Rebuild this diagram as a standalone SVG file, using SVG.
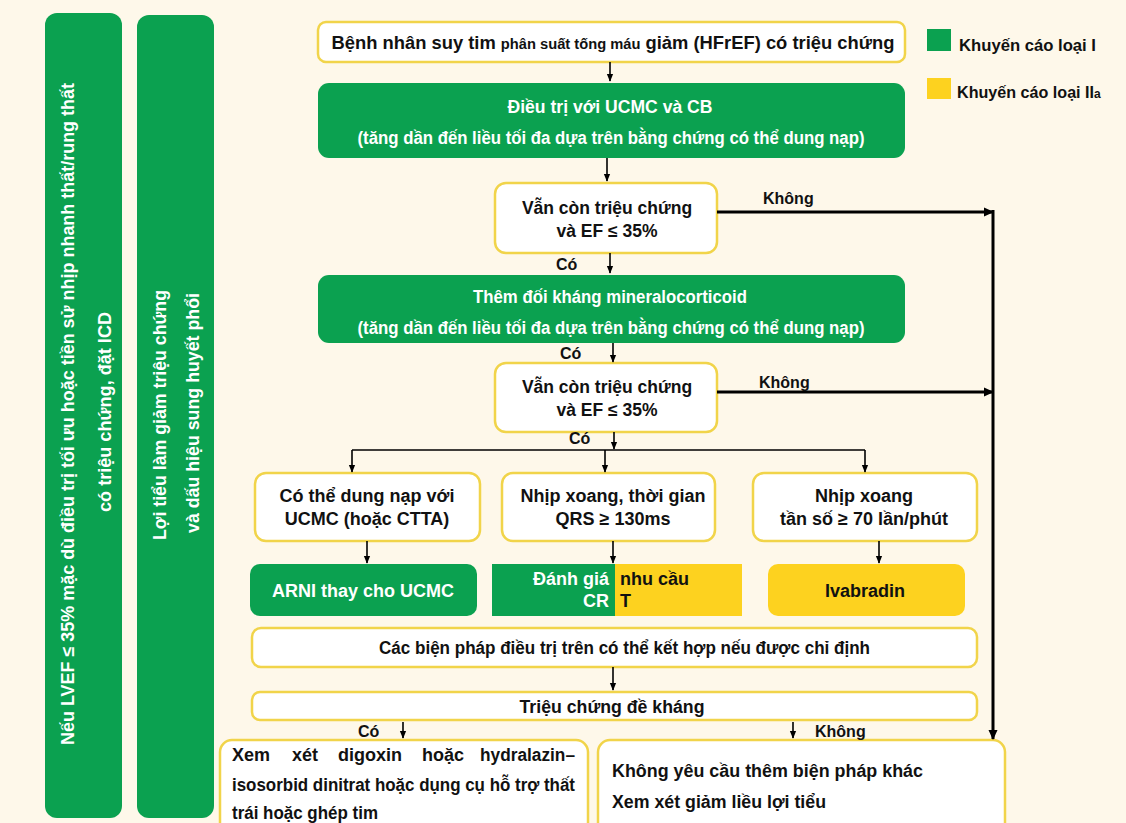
<svg xmlns="http://www.w3.org/2000/svg" width="1126" height="823" viewBox="0 0 1126 823">
<defs>
<marker id="ah" markerUnits="userSpaceOnUse" markerWidth="10" markerHeight="10" viewBox="0 0 10 10" refX="9" refY="5" orient="auto">
<path d="M0,0.5 L10,5 L0,9.5 Z" fill="#000"/>
</marker>
<marker id="ahs" markerUnits="userSpaceOnUse" markerWidth="8" markerHeight="8" viewBox="0 0 10 10" refX="9" refY="5" orient="auto">
<path d="M0,1 L10,5 L0,9 Z" fill="#000"/>
</marker>
</defs>
<style>
text{font-family:"Liberation Sans",Arial,sans-serif;font-weight:bold;fill:#111;}
.g{fill:#0ba150;}
.y{fill:#fdd21f;}
.w{fill:#fff;stroke:#f1d44a;stroke-width:2.5;}
.wt{fill:#fff;}
.c{text-anchor:middle;}
.f18{font-size:18px;}
.f17{font-size:17.5px;}
.f16{font-size:16px;}
.ln{stroke:#000;stroke-width:1.6;fill:none;}
.lt{stroke:#000;stroke-width:3;fill:none;}
</style>
<rect width="1126" height="823" fill="#fef8ea"/>

<g id="side-icd">
<rect x="45" y="13" width="77" height="805" rx="12" class="g"/>
<text class="wt c f18" transform="translate(74,414) rotate(-90)" textLength="662" lengthAdjust="spacingAndGlyphs">Nếu LVEF ≤ 35% mặc dù điều trị tối ưu hoặc tiền sử nhịp nhanh thất/rung thất</text>
<text class="wt c f18" transform="translate(111,412) rotate(-90)" textLength="200" lengthAdjust="spacingAndGlyphs">có triệu chứng, đặt ICD</text>
</g>
<g id="side-diuretic">
<rect x="137" y="15" width="77" height="803" rx="12" class="g"/>
<text class="wt c f18" transform="translate(166,415) rotate(-90)" textLength="250" lengthAdjust="spacingAndGlyphs">Lợi tiểu làm giảm triệu chứng</text>
<text class="wt c f18" transform="translate(199,413) rotate(-90)" textLength="240" lengthAdjust="spacingAndGlyphs">và dấu hiệu sung huyết phổi</text>
</g>

<g id="legend">
<rect x="927" y="29" width="24" height="22" class="g"/>
<text x="959" y="51" class="f16" textLength="137" lengthAdjust="spacingAndGlyphs">Khuyến cáo loại I</text>
<rect x="927" y="78" width="24" height="21" class="y"/>
<text x="957" y="98" class="f16"><tspan textLength="137" lengthAdjust="spacingAndGlyphs">Khuyến cáo loại II</tspan><tspan font-size="12">a</tspan></text>
</g>

<g id="n-start">
<rect x="318" y="22" width="587" height="40" rx="8" class="w"/>
<text x="613" y="49" class="c f17" textLength="563" lengthAdjust="spacingAndGlyphs">Bệnh nhân suy tim <tspan font-size="14">phân suất tống máu</tspan> giảm (HFrEF) có triệu chứng</text>
</g>

<g id="n-ucmc">
<rect x="318" y="83" width="587" height="75" rx="11" class="g"/>
<text x="610" y="113" class="wt c f17" textLength="205" lengthAdjust="spacingAndGlyphs">Điều trị với UCMC và CB</text>
<text x="611" y="144" class="wt c f17" textLength="507" lengthAdjust="spacingAndGlyphs">(tăng dần đến liều tối đa dựa trên bằng chứng có thể dung nạp)</text>
</g>

<g id="n-q1">
<rect x="495" y="183" width="222" height="70" rx="11" class="w"/>
<text x="607" y="214" class="c f17">Vẫn còn triệu chứng</text>
<text x="607" y="237" class="c f17">và EF ≤ 35%</text>
</g>

<g id="n-mra">
<rect x="318" y="275" width="587" height="68" rx="11" class="g"/>
<text x="610" y="303" class="wt c f17" textLength="274" lengthAdjust="spacingAndGlyphs">Thêm đối kháng mineralocorticoid</text>
<text x="611" y="334" class="wt c f17" textLength="507" lengthAdjust="spacingAndGlyphs">(tăng dần đến liều tối đa dựa trên bằng chứng có thể dung nạp)</text>
</g>

<g id="n-q2">
<rect x="495" y="363" width="222" height="69" rx="11" class="w"/>
<text x="607" y="393" class="c f17">Vẫn còn triệu chứng</text>
<text x="607" y="416" class="c f17">và EF ≤ 35%</text>
</g>

<g id="n-tol">
<rect x="255" y="473" width="225" height="68" rx="11" class="w"/>
<text x="367" y="502" class="c f18">Có thể dung nạp với</text>
<text x="367" y="525" class="c f18">UCMC (hoặc CTTA)</text>
</g>
<g id="n-qrs">
<rect x="502" y="473" width="213" height="68" rx="11" class="w"/>
<text x="613" y="502" class="c f18">Nhịp xoang, thời gian</text>
<text x="613" y="525" class="c f18">QRS ≥ 130ms</text>
</g>
<g id="n-hr">
<rect x="753" y="473" width="224" height="68" rx="11" class="w"/>
<text x="864" y="502" class="c f18">Nhịp xoang</text>
<text x="864" y="525" class="c f18">tần số ≥ 70 lần/phút</text>
</g>

<g id="n-arni">
<rect x="250" y="564" width="227" height="52" rx="10" class="g"/>
<text x="363" y="597" class="wt c f18">ARNI thay cho UCMC</text>
</g>
<g id="n-crt">
<rect x="492" y="564" width="123" height="52" class="g"/>
<rect x="615" y="564" width="127" height="52" class="y"/>
<text x="609" y="585" class="wt f18" text-anchor="end">Đánh giá</text>
<text x="609" y="607" class="wt f18" text-anchor="end">CR</text>
<text x="620" y="585" class="f18">nhu cầu</text>
<text x="620" y="607" class="f18">T</text>
</g>
<g id="n-ivab">
<rect x="768" y="564" width="197" height="52" rx="10" class="y"/>
<text x="865" y="597" class="c f18">Ivabradin</text>
</g>

<g id="n-combine">
<rect x="252" y="628" width="725" height="39" rx="9" class="w"/>
<text x="379" y="654" class="f17" textLength="491" lengthAdjust="spacingAndGlyphs">Các biện pháp điều trị trên có thể kết hợp nếu được chỉ định</text>
</g>

<g id="n-refr">
<rect x="252" y="692" width="725" height="28" rx="8" class="w"/>
<text x="612" y="713" class="c f17" textLength="185" lengthAdjust="spacingAndGlyphs">Triệu chứng đề kháng</text>
</g>

<g id="n-yes-end">
<rect x="220" y="740" width="368" height="100" rx="12" class="w"/>
<text y="761" class="f18"><tspan x="232">Xem</tspan><tspan x="292">xét</tspan><tspan x="338">digoxin</tspan><tspan x="422">hoặc</tspan><tspan x="480" textLength="95" lengthAdjust="spacingAndGlyphs">hydralazin–</tspan></text>
<text x="232" y="791" class="f18" textLength="343" lengthAdjust="spacingAndGlyphs">isosorbid dinitrat hoặc dụng cụ hỗ trợ thất</text>
<text x="232" y="819" class="f18" textLength="146" lengthAdjust="spacingAndGlyphs">trái hoặc ghép tim</text>
</g>

<g id="n-no-end">
<rect x="598" y="740" width="407" height="100" rx="12" class="w"/>
<text x="612" y="777" class="f18" textLength="311" lengthAdjust="spacingAndGlyphs">Không yêu cầu thêm biện pháp khác</text>
<text x="612" y="808" class="f18" textLength="214" lengthAdjust="spacingAndGlyphs">Xem xét giảm liều lợi tiểu</text>
</g>

<g id="connectors">
<path class="ln" d="M610,62 V81" marker-end="url(#ahs)"/>
<path class="ln" d="M607,158 V181" marker-end="url(#ahs)"/>
<path class="ln" d="M610,253 V273" marker-end="url(#ahs)"/>
<path class="ln" d="M613,343 V362" marker-end="url(#ahs)"/>
<path class="ln" d="M614,432 V449" marker-end="url(#ahs)"/>
<path class="ln" d="M352,450 H865"/>
<path class="ln" d="M352,450 V472" marker-end="url(#ahs)"/>
<path class="ln" d="M605,450 V472" marker-end="url(#ahs)"/>
<path class="ln" d="M865,450 V472" marker-end="url(#ahs)"/>
<path class="ln" d="M367,541 V563" marker-end="url(#ahs)"/>
<path class="ln" d="M613,541 V563" marker-end="url(#ahs)"/>
<path class="ln" d="M879,541 V563" marker-end="url(#ahs)"/>
<path class="ln" d="M613,667 V690" marker-end="url(#ahs)"/>
<path class="ln" d="M403,722 V738" marker-end="url(#ahs)"/>
<path class="ln" d="M793,722 V738" marker-end="url(#ahs)"/>
<path class="lt" d="M717,212 H993" marker-end="url(#ah)"/>
<path class="lt" d="M717,392 H993" marker-end="url(#ah)"/>
<path class="lt" d="M993,210 V739" marker-end="url(#ah)"/>
<text x="763" y="204" class="f16">Không</text>
<text x="759" y="388" class="f16">Không</text>
<text x="556" y="270" class="f16">Có</text>
<text x="560" y="359" class="f16">Có</text>
<text x="569" y="444" class="f16">Có</text>
<text x="358" y="737" class="f16">Có</text>
<text x="815" y="737" class="f16">Không</text>
</g>
</svg>
